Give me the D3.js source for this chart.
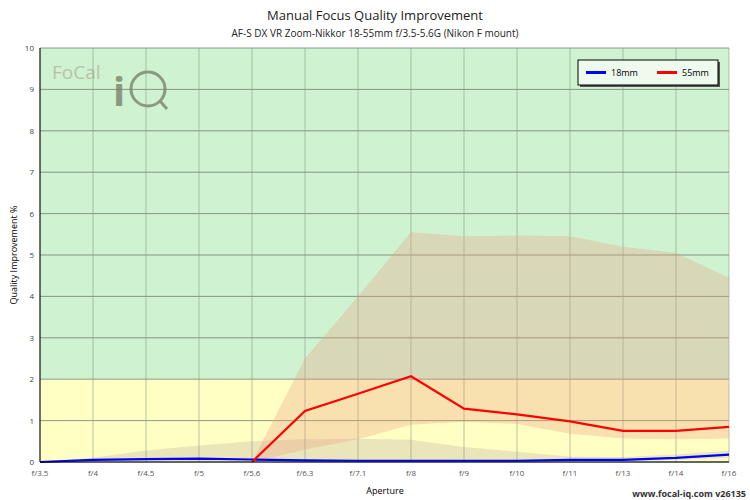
<!DOCTYPE html>
<html><head><meta charset="utf-8">
<script src="https://cdn.jsdelivr.net/npm/d3@7"></script>
<style>body{margin:0;background:#fff}text{font-family:"Open Sans",sans-serif}</style>
</head><body><svg id="c" width="750" height="500"></svg>
<script>
const apertures = ["f/3.5","f/4","f/4.5","f/5","f/5.6","f/6.3","f/7.1","f/8","f/9","f/10","f/11","f/13","f/14","f/16"];
const yTicks = [0,1,2,3,4,5,6,7,8,9,10];
const q18 = [0,0.05,0.07,0.08,0.06,0.04,0.03,0.03,0.03,0.03,0.05,0.05,0.1,0.18];
const q18Hi = [0,0.1,0.28,0.4,0.5,0.55,0.56,0.54,0.36,0.25,0.13,0.12,0.18,0.27];
const q18Lo = [0,0.01,0.02,0.02,0.02,0.02,0.01,0.01,0.01,0.01,0.02,0.02,0.05,0.1];
const q55 = [null,null,null,null,0,1.23,1.65,2.07,1.29,1.15,0.98,0.75,0.75,0.85];
const q55Hi = [null,null,null,null,0,2.5,4.0,5.55,5.45,5.47,5.45,5.2,5.05,4.45];
const q55Lo = [null,null,null,null,0,0.3,0.55,0.9,0.97,0.92,0.68,0.57,0.55,0.57];

const svg = d3.select("#c");
const L=40,R=729,T=48,B=462;
const x = d3.scalePoint().domain(apertures).range([L,R]);
const y = d3.scaleLinear().domain([0,10]).range([B,T]);

svg.append("rect").attr("x",L).attr("y",y(10)).attr("width",R-L).attr("height",y(2)-y(10)).attr("fill","#cff2d0");
svg.append("rect").attr("x",L).attr("y",y(2)).attr("width",R-L).attr("height",y(0)-y(2)).attr("fill","#ffffc4");

// logo
svg.append("text").attr("x",52).attr("y",79).attr("font-size",19).attr("fill","#b5c4a8").text("FoCal");
svg.append("text").attr("x",113).attr("y",106).attr("font-size",40).attr("font-weight","bold").attr("fill","#8a9a80").text("i");
svg.append("circle").attr("cx",148).attr("cy",89).attr("r",17).attr("fill","none").attr("stroke","#8a9a80").attr("stroke-width",3);
svg.append("line").attr("x1",160).attr("y1",101).attr("x2",167).attr("y2",109).attr("stroke","#8a9a80").attr("stroke-width",3);

// grid
svg.append("g").selectAll("line").data(yTicks).join("line")
  .attr("x1",L).attr("x2",R).attr("y1",d=>y(d)).attr("y2",d=>y(d)).attr("stroke","#708070").attr("stroke-width",0.8);
svg.append("g").selectAll("line").data(apertures).join("line")
  .attr("x1",d=>x(d)).attr("x2",d=>x(d)).attr("y1",T).attr("y2",B).attr("stroke","#8a9a8a").attr("stroke-width",0.6);

function band(hi,lo,color){
  const pts = apertures.map((a,i)=>({a,hi:hi[i],lo:lo[i]})).filter(d=>d.hi!==null);
  svg.append("path").datum(pts).attr("fill",color)
    .attr("d",d3.area().x(d=>x(d.a)).y0(d=>y(d.lo)).y1(d=>y(d.hi)));
}
band(q18Hi,q18Lo,"rgba(160,140,150,0.22)");
band(q55Hi,q55Lo,"rgba(235,160,130,0.32)");

function line(v,color){
  const pts = apertures.map((a,i)=>({a,v:v[i]})).filter(d=>d.v!==null);
  svg.append("path").datum(pts).attr("fill","none").attr("stroke",color).attr("stroke-width",2.2)
    .attr("d",d3.line().x(d=>x(d.a)).y(d=>y(d.v)));
}
line(q18,"#0000ff");
line(q55,"#ff0000");

// axes
svg.append("line").attr("x1",L).attr("x2",L).attr("y1",T).attr("y2",B).attr("stroke","#000");
svg.append("line").attr("x1",L).attr("x2",R).attr("y1",B).attr("y2",B).attr("stroke","#000");
svg.append("g").selectAll("text").data(yTicks).join("text")
  .attr("x",L-6).attr("y",d=>y(d)+3).attr("text-anchor","end").attr("font-size",8).attr("fill","#444").text(d=>d);
svg.append("g").selectAll("text").data(apertures).join("text")
  .attr("x",d=>x(d)).attr("y",B+14).attr("text-anchor","middle").attr("font-size",8).attr("fill","#555").text(d=>d);

svg.append("text").attr("x",385).attr("y",494).attr("text-anchor","middle").attr("font-size",9).text("Aperture");
svg.append("text").attr("transform","translate(17,255) rotate(-90)").attr("text-anchor","middle").attr("font-size",9).text("Quality Improvement %");
svg.append("text").attr("x",375).attr("y",20).attr("text-anchor","middle").attr("font-size",13).attr("fill","#222").text("Manual Focus Quality Improvement");
svg.append("text").attr("x",375).attr("y",37).attr("text-anchor","middle").attr("font-size",10).attr("fill","#222").text("AF-S DX VR Zoom-Nikkor 18-55mm f/3.5-5.6G (Nikon F mount)");
svg.append("text").attr("x",746).attr("y",497).attr("text-anchor","end").attr("font-size",9).attr("font-weight","bold").attr("fill","#333").text("www.focal-iq.com  v26135");

// legend
const lg = svg.append("g");
lg.append("rect").attr("x",580).attr("y",62).attr("width",140).attr("height",25).attr("fill","#555");
lg.append("rect").attr("x",578).attr("y",60).attr("width",140).attr("height",25).attr("fill","#eefaee").attr("stroke","#000");
[["18mm","#0000ff",586],["55mm","#ff0000",657]].forEach(([t,c,lx])=>{
  lg.append("line").attr("x1",lx).attr("x2",lx+20).attr("y1",72.5).attr("y2",72.5).attr("stroke",c).attr("stroke-width",3);
  lg.append("text").attr("x",lx+25).attr("y",76).attr("font-size",9).text(t);
});
</script></body></html>
